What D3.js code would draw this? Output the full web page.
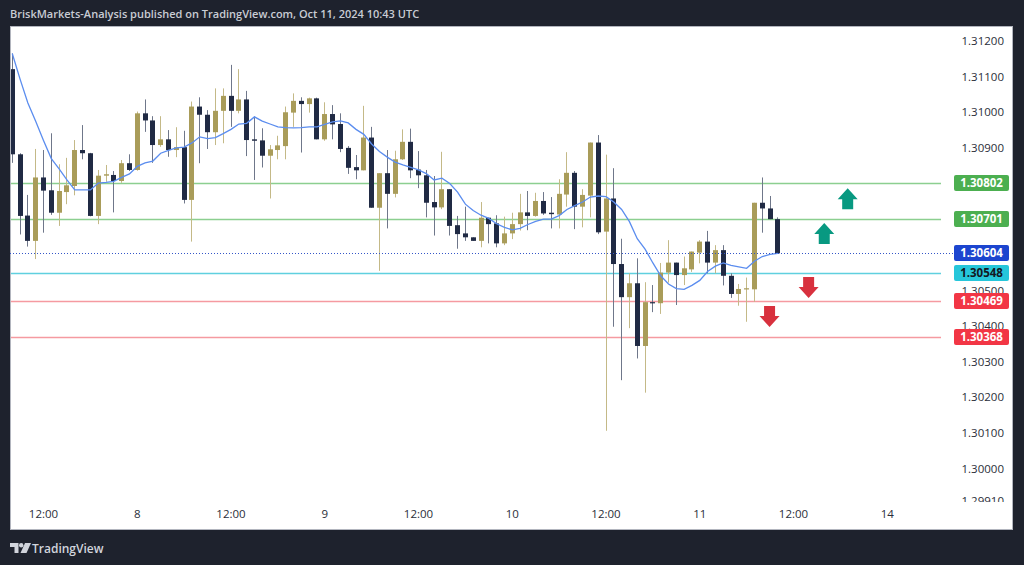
<!DOCTYPE html>
<html>
<head>
<meta charset="utf-8">
<script src="https://cdn.jsdelivr.net/npm/d3@7"></script>
<style>
  body { margin: 0; background: #1e222d; }
  svg { display: block; }
</style>
</head>
<body>
<svg id="chart" width="1024" height="565"></svg>
<script>
// hourly candles, first one at Oct 7 08:00 (hour 8 counted from Oct 7 00:00)
var firstHour = 8;

var open = [1.31121,1.30882,1.30710,1.30639,1.30817,1.30781,1.30718,1.30776,1.30793,1.30894,
  1.30885,1.30709,1.30822,1.30824,1.30807,1.30857,1.30838,1.30997,1.30977,1.30908,
  1.30924,1.30894,1.30902,1.30754,1.31016,1.30993,1.30944,1.31004,1.31046,1.31004,
  1.31036,1.30924,1.30921,1.30878,1.30894,1.30905,1.30999,1.31032,1.31023,1.31039,
  1.30924,1.30995,1.30967,1.30900,1.30846,1.30837,1.30929,1.30732,1.30829,1.30771,
  1.30868,1.30917,1.30839,1.30823,1.30748,1.30733,1.30784,1.30683,1.30660,1.30649,
  1.30639,1.30704,1.30688,1.30632,1.30660,1.30686,1.30719,1.30709,1.30751,1.30718,
  1.30713,1.30769,1.30830,1.30735,1.30766,1.30915,1.30665,1.30758,1.30574,1.30481,
  1.30520,1.30344,1.30467,1.30464,1.30550,1.30578,1.30543,1.30559,1.30606,1.30637,
  1.30578,1.30613,1.30541,1.30490,1.30503,1.30503,1.30746,1.30730,1.30700];

var high = [1.31165,1.30885,1.30768,1.30897,1.30894,1.30941,1.30854,1.30872,1.30922,1.30964,
  1.30886,1.30838,1.30852,1.30835,1.30866,1.30882,1.31002,1.31036,1.30989,1.30989,
  1.30950,1.30958,1.30948,1.31030,1.31042,1.31006,1.31067,1.31067,1.31133,1.31121,
  1.31060,1.30988,1.30955,1.30908,1.30934,1.31016,1.31053,1.31042,1.31041,1.31041,
  1.31028,1.31020,1.30997,1.30905,1.30880,1.31018,1.30959,1.30829,1.30894,1.30892,
  1.30952,1.30954,1.30891,1.30838,1.30821,1.30889,1.30784,1.30709,1.30735,1.30649,
  1.30748,1.30704,1.30711,1.30707,1.30718,1.30771,1.30779,1.30774,1.30776,1.30762,
  1.30812,1.30888,1.30835,1.30784,1.30915,1.30936,1.30881,1.30843,1.30645,1.30548,
  1.30590,1.30523,1.30515,1.30577,1.30641,1.30578,1.30595,1.30609,1.30641,1.30667,
  1.30627,1.30627,1.30548,1.30518,1.30536,1.30746,1.30817,1.30765,1.30705];

var low = [1.30858,1.30657,1.30623,1.30588,1.30662,1.30712,1.30681,1.30742,1.30767,1.30868,
  1.30708,1.30686,1.30805,1.30719,1.30802,1.30835,1.30836,1.30945,1.30858,1.30903,
  1.30875,1.30874,1.30744,1.30637,1.30857,1.30897,1.30908,1.30913,1.30959,1.30997,
  1.30877,1.30810,1.30845,1.30758,1.30868,1.30868,1.30959,1.30887,1.30999,1.30924,
  1.30920,1.30924,1.30888,1.30827,1.30812,1.30837,1.30732,1.30555,1.30674,1.30761,
  1.30866,1.30815,1.30787,1.30705,1.30654,1.30728,1.30654,1.30617,1.30639,1.30639,
  1.30621,1.30632,1.30621,1.30627,1.30644,1.30668,1.30669,1.30707,1.30712,1.30674,
  1.30674,1.30735,1.30672,1.30677,1.30705,1.30658,1.30106,1.30398,1.30248,1.30394,
  1.30309,1.30213,1.30439,1.30434,1.30522,1.30459,1.30515,1.30552,1.30576,1.30548,
  1.30548,1.30514,1.30479,1.30457,1.30412,1.30468,1.30662,1.30700,1.30604];

var close = [1.30882,1.30709,1.30639,1.30817,1.30780,1.30718,1.30779,1.30795,1.30894,1.30885,
  1.30709,1.30822,1.30826,1.30807,1.30857,1.30838,1.30997,1.30977,1.30908,1.30924,
  1.30894,1.30902,1.30754,1.31016,1.30993,1.30944,1.31004,1.31046,1.31004,1.31036,
  1.30922,1.30920,1.30878,1.30896,1.30907,1.31000,1.31032,1.31023,1.31039,1.30924,
  1.30995,1.30966,1.30897,1.30844,1.30837,1.30929,1.30732,1.30829,1.30771,1.30868,
  1.30917,1.30837,1.30823,1.30746,1.30733,1.30784,1.30681,1.30658,1.30649,1.30639,
  1.30704,1.30686,1.30632,1.30660,1.30686,1.30719,1.30709,1.30751,1.30716,1.30714,
  1.30771,1.30830,1.30735,1.30768,1.30915,1.30663,1.30758,1.30574,1.30481,1.30520,
  1.30344,1.30467,1.30464,1.30550,1.30578,1.30543,1.30562,1.30609,1.30637,1.30578,
  1.30613,1.30541,1.30490,1.30504,1.30506,1.30746,1.30730,1.30700,1.30604];

// moving average
var ma = [1.31165,1.31093,1.31026,1.30975,1.30921,1.30870,1.30841,1.30810,1.30782,1.30782,
  1.30782,1.30801,1.30803,1.30806,1.30817,1.30827,1.30848,1.30858,1.30863,1.30885,
  1.30893,1.30900,1.30902,1.30914,1.30931,1.30926,1.30929,1.30940,1.30952,1.30967,
  1.30969,1.30987,1.30975,1.30967,1.30959,1.30957,1.30956,1.30957,1.30959,1.30959,
  1.30966,1.30973,1.30976,1.30970,1.30952,1.30938,1.30911,1.30890,1.30874,1.30860,
  1.30852,1.30845,1.30838,1.30828,1.30810,1.30815,1.30800,1.30776,1.30742,1.30724,
  1.30711,1.30702,1.30687,1.30677,1.30670,1.30674,1.30685,1.30694,1.30700,1.30700,
  1.30710,1.30727,1.30738,1.30748,1.30762,1.30765,1.30763,1.30748,1.30727,1.30693,
  1.30645,1.30616,1.30577,1.30541,1.30518,1.30505,1.30503,1.30514,1.30528,1.30553,
  1.30568,1.30577,1.30570,1.30566,1.30562,1.30582,1.30595,1.30601,1.30604];

var priceTicks = [1.312, 1.311, 1.310, 1.309, 1.308, 1.307, 1.306, 1.305, 1.304, 1.303, 1.302, 1.301, 1.300, 1.2991];
var timeTicks = [12, 24, 36, 48, 60, 72, 84, 96, 108, 120];
var timeLabels = ["12:00", "8", "12:00", "9", "12:00", "10", "12:00", "11", "12:00", "14"];

// horizontal levels drawn on the chart
var levels = [1.30802, 1.30701, 1.30548, 1.30469, 1.30368];
var levelKinds = ["green", "green", "cyan", "red", "red"];
var lastPrice = 1.30604;

// arrows: hour, tip price, direction
var arrowHours = [115, 112, 110, 105];
var arrowTips = [1.30787, 1.30689, 1.30479, 1.30397];
var arrowDirs = ["up", "up", "down", "down"];

var lineColor = {green: "#8ccf90", cyan: "#5fd0df", red: "#f59aa1"};
var boxColor = {green: "#4caf50", cyan: "#26c6da", red: "#f23645", last: "#1c45cf"};
var boxText = {green: "#ffffff", cyan: "#131722", red: "#ffffff", last: "#ffffff"};

var svg = d3.select("#chart");
var plotLeft = 10, plotTop = 26, plotRight = 940, plotBottom = 504;

var x = d3.scaleLinear().domain([12, 108]).range([43, 793]);
var y = d3.scaleLinear().domain([1.2991, 1.312]).range([500.6, 41]);

// header
svg.append("text")
    .attr("x", 10)
    .attr("y", 18)
    .attr("fill", "#c9ccd4")
    .style("font", "600 11px 'Open Sans', sans-serif")
    .text("BriskMarkets-Analysis published on TradingView.com, Oct 11, 2024 10:43 UTC");

// white chart panel
svg.append("rect")
    .attr("x", 10.5).attr("y", 26.5)
    .attr("width", 1002).attr("height", 503)
    .attr("fill", "#ffffff")
    .attr("stroke", "#b2b5be");

svg.append("clipPath").attr("id", "plotclip")
    .append("rect")
    .attr("x", plotLeft + 1).attr("y", plotTop + 1)
    .attr("width", plotRight - plotLeft).attr("height", plotBottom - plotTop);

// the price scale is cut where the time scale begins
svg.append("clipPath").attr("id", "scaleclip")
    .append("rect")
    .attr("x", plotLeft + 1).attr("y", plotTop + 1)
    .attr("width", 1000).attr("height", 475);

// price scale (outer group clips, inner group is moved to the right edge)
var yAxis = svg.append("g")
    .attr("clip-path", "url(#scaleclip)")
    .append("g")
    .attr("transform", "translate(1004,0)")
    .call(d3.axisLeft(y).tickValues(priceTicks).tickSize(0).tickPadding(0).tickFormat(d3.format(".5f")));
yAxis.select(".domain").remove();
yAxis.selectAll("text")
    .attr("fill", "#2a2e39")
    .style("font", "11.5px 'Open Sans', sans-serif");

// time scale
var xAxis = svg.append("g")
    .attr("transform", "translate(0,508)")
    .call(d3.axisBottom(x).tickValues(timeTicks).tickSize(0).tickPadding(2)
        .tickFormat(function (d, i) { return timeLabels[i]; }));
xAxis.select(".domain").remove();
xAxis.selectAll("text")
    .attr("fill", "#2a2e39")
    .style("font", "11.5px 'Open Sans', sans-serif");

var g = svg.append("g").attr("clip-path", "url(#plotclip)");

// level lines
g.selectAll(".level")
    .data(levels)
    .enter().append("line")
    .attr("class", "level")
    .attr("x1", plotLeft).attr("x2", 955)
    .attr("y1", function (d) { return Math.round(y(d)) + 0.5; })
    .attr("y2", function (d) { return Math.round(y(d)) + 0.5; })
    .attr("stroke", function (d, i) { return lineColor[levelKinds[i]]; })
    .attr("stroke-width", 1.6);

svg.append("line")
    .attr("x1", plotLeft).attr("x2", 955)
    .attr("y1", Math.round(y(lastPrice)) + 0.5)
    .attr("y2", Math.round(y(lastPrice)) + 0.5)
    .attr("stroke", "#3456c8")
    .attr("stroke-width", 1)
    .attr("stroke-dasharray", "1,2");

// candles
var candles = d3.range(open.length).map(function (i) {
    return {h: firstHour + i, o: open[i], hi: high[i], lo: low[i], c: close[i]};
});

var candle = g.selectAll(".candle")
    .data(candles)
    .enter().append("g")
    .attr("class", "candle");

candle.append("rect")
    .attr("x", function (d) { return Math.round(x(d.h)); })
    .attr("width", 1)
    .attr("y", function (d) { return y(d.hi); })
    .attr("height", function (d) { return Math.max(1, y(d.lo) - y(d.hi)); })
    .attr("fill", function (d) { return d.c >= d.o ? "#c4b987" : "#6f778a"; });

candle.append("rect")
    .attr("x", function (d) { return Math.round(x(d.h)) - 2; })
    .attr("width", 5)
    .attr("y", function (d) { return y(Math.max(d.o, d.c)); })
    .attr("height", function (d) { return Math.max(1.2, Math.abs(y(d.o) - y(d.c))); })
    .attr("fill", function (d) { return d.c >= d.o ? "#a99c59" : "#202a44"; });

// moving average
var maLine = d3.line()
    .x(function (d, i) { return x(firstHour + i) + 0.5; })
    .y(function (d) { return y(d); });

g.append("path")
    .datum(ma)
    .attr("d", maLine)
    .attr("fill", "none")
    .attr("stroke", "#5b8def")
    .attr("stroke-width", 1.3);

// arrows
function arrowPath(cx, ty, dir) {
    var s = dir === "up" ? 1 : -1;
    var p = [[0, 0], [10, 11], [5.5, 11], [5.5, 21], [-5.5, 21], [-5.5, 11], [-10, 11]];
    return "M" + p.map(function (q) { return (cx + q[0]) + "," + (ty + s * q[1]); }).join("L") + "Z";
}

svg.selectAll(".arrow")
    .data(arrowHours)
    .enter().append("path")
    .attr("class", "arrow")
    .attr("d", function (d, i) { return arrowPath(x(d), y(arrowTips[i]), arrowDirs[i]); })
    .attr("fill", function (d, i) { return arrowDirs[i] === "up" ? "#089981" : "#d8313e"; });

// price boxes on the scale
var boxes = levels.map(function (v, i) { return {v: v, kind: levelKinds[i]}; });
boxes.push({v: lastPrice, kind: "last"});

var box = svg.selectAll(".pbox")
    .data(boxes)
    .enter().append("g")
    .attr("class", "pbox")
    .attr("transform", function (d) { return "translate(954," + Math.round(y(d.v)) + ")"; });

box.append("rect")
    .attr("x", 0).attr("y", -8)
    .attr("width", 55).attr("height", 16)
    .attr("rx", 2)
    .attr("fill", function (d) { return boxColor[d.kind]; });

box.append("text")
    .attr("x", 27.5)
    .attr("y", 0)
    .attr("dy", "0.36em")
    .attr("text-anchor", "middle")
    .attr("fill", function (d) { return boxText[d.kind]; })
    .style("font", "bold 11.5px 'Open Sans', sans-serif")
    .text(function (d) { return d3.format(".5f")(d.v); });

// footer logo
var logo = svg.append("g").attr("transform", "translate(10,543)").attr("fill", "#d1d4dc");
logo.append("path").attr("d", "M0 0H8.5V10H4.5V4H0Z");
logo.append("circle").attr("cx", 11.2).attr("cy", 2.2).attr("r", 2.2);
logo.append("path").attr("d", "M15 0H21L16.5 10H10.5Z");

svg.append("text")
    .attr("x", 32)
    .attr("y", 553)
    .attr("fill", "#d1d4dc")
    .style("font", "600 12px 'Open Sans', sans-serif")
    .text("TradingView");
</script>
</body>
</html>
